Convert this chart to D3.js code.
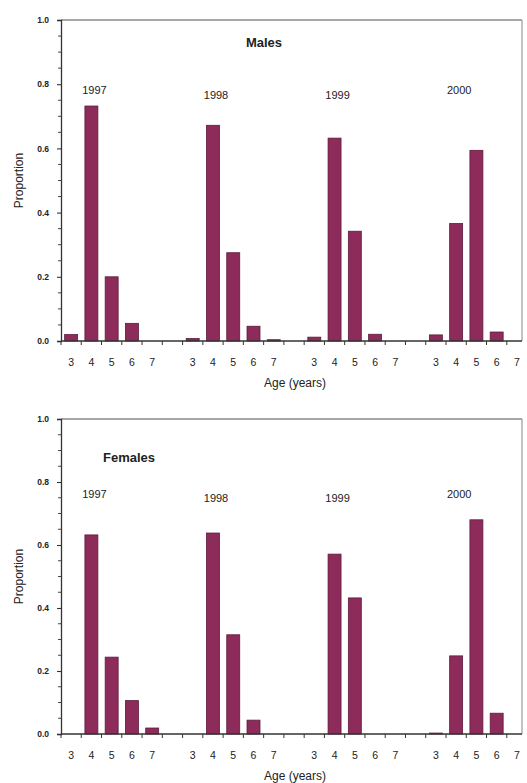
<!DOCTYPE html>
<html>
<head>
<meta charset="utf-8">
<script src="https://cdn.jsdelivr.net/npm/d3@7"></script>
<style>
  body { margin: 0; background: #fff; }
  svg { display: block; }
  text { font-family: "Liberation Sans", Arial, sans-serif; fill: #222; }
</style>
</head>
<body>
<svg id="chart" width="527" height="783"></svg>
<script>
// ---- data ----
const years = ["1997", "1998", "1999", "2000"];
const ages = [3, 4, 5, 6, 7];
const malesValues = [
  [0.020, 0.732, 0.200, 0.055, 0.000],
  [0.008, 0.672, 0.275, 0.046, 0.004],
  [0.012, 0.632, 0.342, 0.021, 0.000],
  [0.019, 0.366, 0.594, 0.028, 0.000]
];
const femalesValues = [
  [0.000, 0.632, 0.244, 0.106, 0.019],
  [0.000, 0.638, 0.315, 0.044, 0.000],
  [0.000, 0.571, 0.432, 0.000, 0.000],
  [0.003, 0.248, 0.680, 0.066, 0.000]
];
const yTicks = [0.0, 0.2, 0.4, 0.6, 0.8, 1.0];
const panelTitles = ["Males", "Females"];
const yLabel = "Proportion";
const xLabel = "Age (years)";

// ---- layout ----
const svg = d3.select("#chart");
const barColor = "#8d2b5b";
const barStroke = "#5e1a3c";

const panels = [
  { title: panelTitles[0], values: malesValues, top: 20, bottom: 341,
    titleX: 264, titleY: 47, yearY: [94, 99, 99, 94] },
  { title: panelTitles[1], values: femalesValues, top: 419, bottom: 734,
    titleX: 129, titleY: 462, yearY: [498, 502, 502, 498] }
];

const groupStride = ages.length + 1;
const x = d3.scaleLinear().domain([-0.5, 22.25]).range([61, 522]);
const slotW = x(1) - x(0);
const barW = slotW * 0.64;

panels.forEach(p => {
  const y = d3.scaleLinear().domain([0, 1]).range([p.bottom, p.top]);
  const g = svg.append("g");

  // frame: top and right lines (gray)
  g.append("line").attr("x1", x(-0.5)).attr("x2", x(22.25))
    .attr("y1", y(1)).attr("y2", y(1))
    .attr("stroke", "#8a8a8a").attr("stroke-width", 1.6);
  g.append("line").attr("x1", x(22.25)).attr("x2", x(22.25))
    .attr("y1", y(1)).attr("y2", y(0))
    .attr("stroke", "#9a9a9a").attr("stroke-width", 1.2);

  // bars
  const data = [];
  p.values.forEach((row, gi) => row.forEach((v, ai) => {
    data.push({ idx: gi * groupStride + ai, v: v, age: ages[ai] });
  }));
  g.selectAll("rect.bar").data(data.filter(d => d.v > 0)).enter().append("rect")
    .attr("class", "bar")
    .attr("x", d => x(d.idx) - barW / 2)
    .attr("width", barW)
    .attr("y", d => y(d.v))
    .attr("height", d => y(0) - y(d.v))
    .attr("fill", barColor)
    .attr("stroke", barStroke)
    .attr("stroke-width", 0.8);

  // y axis
  const yAxis = d3.axisLeft(y).tickValues(yTicks).tickFormat(d3.format(".1f"))
    .tickSize(4).tickPadding(8);
  const ya = g.append("g").attr("transform", `translate(${x(-0.5)},0)`).call(yAxis);
  ya.select(".domain").attr("stroke", "#333").attr("stroke-width", 1.3);
  ya.selectAll(".tick line").attr("stroke", "#333").attr("stroke-width", 1.1);
  ya.selectAll(".tick text").style("font-size", "8.5px").style("font-weight", "bold")
    .attr("fill", "#333");
  // minor ticks
  const minor = d3.range(0, 1.0001, 0.05).filter(v => Math.round(v * 100) % 20 !== 0);
  g.selectAll("line.minor").data(minor).enter().append("line")
    .attr("x1", x(-0.5) - 3).attr("x2", x(-0.5))
    .attr("y1", d => y(d)).attr("y2", d => y(d))
    .attr("stroke", "#444").attr("stroke-width", 1);

  // x axis
  const xa = g.append("g").attr("transform", `translate(0,${y(0)})`);
  xa.append("line").attr("x1", x(-0.5)).attr("x2", x(22.25))
    .attr("stroke", "#333").attr("stroke-width", 1.3);
  const boundaries = d3.range(-0.5, 22, 1);
  xa.selectAll("line.tk").data(boundaries).enter().append("line")
    .attr("class", "tk")
    .attr("x1", d => x(d)).attr("x2", d => x(d))
    .attr("y1", 0).attr("y2", 4)
    .attr("stroke", "#333").attr("stroke-width", 1);
  xa.selectAll("text.ag").data(data).enter().append("text")
    .attr("class", "ag")
    .attr("x", d => x(d.idx)).attr("y", 25)
    .attr("text-anchor", "middle")
    .style("font-size", "10.5px")
    .text(d => d.age);

  // axis titles
  g.append("text")
    .attr("transform", `translate(23,${(p.top + p.bottom) / 2}) rotate(-90)`)
    .attr("text-anchor", "middle")
    .style("font-size", "12px")
    .text(yLabel);
  g.append("text")
    .attr("x", 295).attr("y", p.bottom + 46)
    .attr("text-anchor", "middle")
    .style("font-size", "12px")
    .text(xLabel);

  // panel title
  g.append("text")
    .attr("x", p.titleX).attr("y", p.titleY)
    .attr("text-anchor", "middle")
    .style("font-size", "13px").style("font-weight", "bold")
    .text(p.title);

  // year labels
  years.forEach((yr, gi) => {
    g.append("text")
      .attr("x", x(gi * groupStride + 1.15)).attr("y", p.yearY[gi])
      .attr("text-anchor", "middle")
      .style("font-size", "11px")
      .text(yr);
  });
});
</script>
</body>
</html>
